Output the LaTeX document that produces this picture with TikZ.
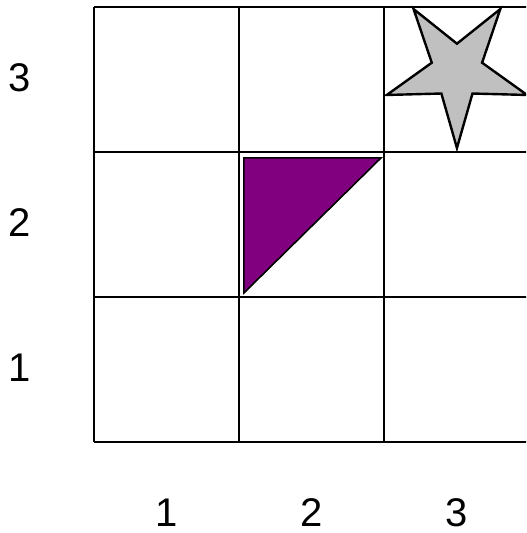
\documentclass[tikz,border=0pt]{standalone}
\usepackage{fontspec}
\setmainfont{Liberation Sans}
\usepackage{xcolor}
\usepackage{tikz}
\usetikzlibrary{positioning, calc}

\definecolor{trifill}{RGB}{128,0,128}
\definecolor{starfill}{RGB}{192,192,192}

\begin{document}
\begin{tikzpicture}[
    x=145pt, y=145pt,
    gridline/.style={draw=black, line width=2.2pt},
    axislabel/.style={font=\fontsize{40}{44}\selectfont, inner sep=0pt, anchor=base},
    starshape/.style={draw=black, fill=starfill, line width=2.4pt, line join=miter},
    trishape/.style={draw=black, fill=trifill, line width=1.6pt, line join=miter}
]

\useasboundingbox (-0.6483,-0.6276) rectangle (2.9793,3.0483);
\clip (-0.6483,-0.6276) rectangle (2.9793,3.0483);

% grid
\foreach \i in {0,...,3} {
  \draw[gridline] (\i,0) -- (\i,3);
  \draw[gridline] (0,\i) -- (3,\i);
}

% labels
\foreach \i in {1,2,3} {
  \node[axislabel] (row\i) at (-0.51,\i-0.586) {\i};
  \node[axislabel] (col\i) at (\i-0.5,-0.586) {\i};
}

% triangle in cell (2,2)
\draw[trishape] (1.034,1.028) -- (1.034,1.959) -- (1.979,1.959) -- cycle;

% star in cell (3,3)
\begin{scope}[shift={(2.503,2.557)}, xscale=0.96]
\draw[starshape] (-90:0.53) -- (-54:0.19) -- (-18:0.53) -- (18:0.19)
  -- (54:0.53) -- (90:0.19) -- (126:0.53) -- (162:0.19)
  -- (198:0.53) -- (234:0.19) -- cycle;
\end{scope}

\end{tikzpicture}
\end{document}
